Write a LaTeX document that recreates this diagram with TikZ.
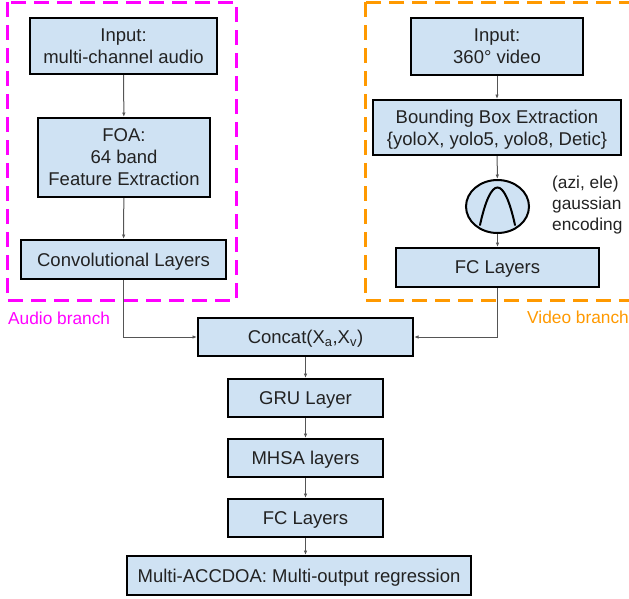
\documentclass[tikz,border=0pt]{standalone}
\usepackage{fontspec}
\setmainfont{Liberation Sans}
\usepackage{tikz}
\usetikzlibrary{arrows.meta,shapes.geometric}

\definecolor{boxblue}{HTML}{CFE2F3}
\definecolor{txtgray}{HTML}{222222}
\definecolor{audiomag}{HTML}{FF00FF}
\definecolor{videoorg}{HTML}{FF9900}
\definecolor{linkgray}{HTML}{555555}

\begin{document}
\begin{tikzpicture}[x=1pt,y=-1pt,
  blk/.style={draw=black, line width=2pt, fill=boxblue, text=txtgray, align=center,
    inner sep=0pt, text depth=0pt, font=\fontsize{18.5}{22}\selectfont},
  % stacked lines sit a bit low in their boxes
  lowtext/.style={execute at begin node={\rule{0pt}{21pt}}},
  lnk/.style={draw=linkgray, line width=1pt, -{Latex[length=4.5pt,width=3.5pt]}},
  branch/.style={line width=3pt, dash pattern=on 15pt off 8pt},
  lbl/.style={font=\fontsize{17.3}{21}\selectfont, inner sep=0pt, align=left}]

\useasboundingbox (0,0) rectangle (629,598);

% branch frames
\draw [branch, audiomag] (7,2) rectangle (236,300);
\draw [branch, videoorg] (365,2) rectangle (650,300);
\node [lbl, text=audiomag, anchor=west] (alab) at (8,318) {Audio branch};
\node [lbl, text=videoorg, anchor=west] (vlab) at (527,317) {Video branch};

% audio branch
\node [blk, lowtext, minimum width=187pt, minimum height=56pt] (ain) at (123.5,46) {Input:\\multi-channel audio};
\node [blk, lowtext, minimum width=172pt, minimum height=79pt] (foa) at (124,157.5) {FOA:\\64 band\\Feature Extraction};
\node [blk, minimum width=205pt, minimum height=39pt] (conv) at (123.5,259.5) {Convolutional Layers};

% video branch
\node [blk, lowtext, minimum width=172pt, minimum height=57pt] (vin) at (497,46.5) {Input:\\360° video};
\node [blk, lowtext, minimum width=248pt, minimum height=55pt] (bbox) at (497,127.5) {Bounding Box Extraction\\\{yoloX, yolo5, yolo8, Detic\}};
\node [blk, ellipse, minimum width=63pt, minimum height=53pt] (gauss) at (497.5,206.5) {};
\draw [line width=2pt, line cap=round] (480,225) .. controls (491,175) and (504,175) .. (515,225);
\node [lbl, text=txtgray, anchor=west] (enc) at (552,205) {(azi, ele)\\gaussian\\encoding};
\node [blk, minimum width=203pt, minimum height=39pt] (vfc) at (497.5,267.5) {FC Layers};

% fusion part
\node [blk, minimum width=215pt, minimum height=38pt] (cat) at (305.5,337) {Concat(X\textsubscript{a},X\textsubscript{v})};
\node [blk, minimum width=155pt, minimum height=38pt] (gru) at (305.5,398) {GRU Layer};
\node [blk, minimum width=155pt, minimum height=38pt] (mhsa) at (305.5,458) {MHSA layers};
\node [blk, minimum width=155pt, minimum height=38pt] (fc) at (305.5,518) {FC Layers};
\node [blk, minimum width=344pt, minimum height=39pt] (out) at (299,575.5) {Multi-ACCDOA: Multi-output regression};

\draw [lnk] (ain) -- (foa);
\draw [lnk] (foa) -- (conv);
\draw [lnk] (vin) -- (bbox);
\draw [lnk] (bbox) -- (gauss);
\draw [lnk] (gauss) -- (vfc);
\draw [lnk] (conv.south) |- (cat.west);
\draw [lnk] (vfc.south) |- (cat.east);
\draw [lnk] (cat) -- (gru);
\draw [lnk] (gru) -- (mhsa);
\draw [lnk] (mhsa) -- (fc);
\draw [lnk] (fc.south) -- (fc.south |- out.north);

\end{tikzpicture}
\end{document}
